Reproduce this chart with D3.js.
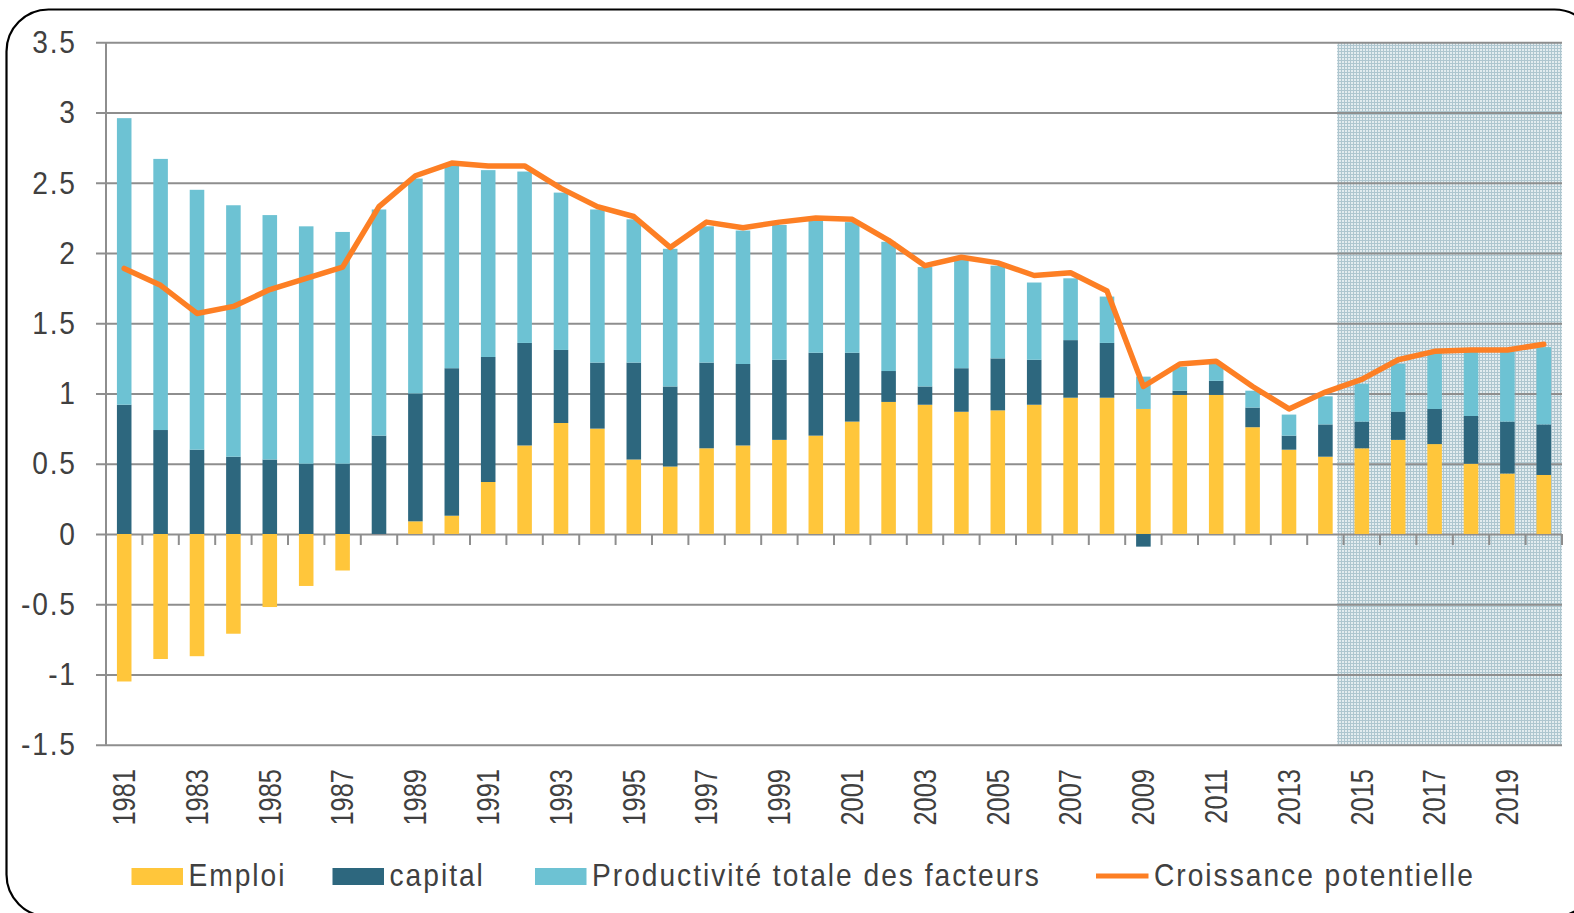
<!DOCTYPE html>
<html><head><meta charset="utf-8">
<script src="https://cdn.jsdelivr.net/npm/d3@7"></script>
<style>
html,body{margin:0;padding:0;background:#fff;}
svg{display:block;}
text{font-family:'Liberation Sans',Arial,sans-serif;fill:#404040;}
</style></head><body>
<svg id="chart" width="1574" height="913"></svg>
<script>
const years = d3.range(1981, 2021);
const emploi = [-1.05,-0.89,-0.87,-0.71,-0.52,-0.37,-0.26,0.0,0.09,0.13,0.37,0.63,0.79,0.75,0.53,0.48,0.61,0.63,0.67,0.70,0.80,0.94,0.92,0.87,0.88,0.92,0.97,0.97,0.89,0.99,0.99,0.76,0.60,0.55,0.61,0.67,0.64,0.50,0.43,0.42];
const capital = [0.92,0.74,0.60,0.55,0.53,0.50,0.50,0.70,0.91,1.05,0.89,0.73,0.52,0.47,0.69,0.57,0.61,0.58,0.57,0.59,0.49,0.22,0.13,0.31,0.37,0.32,0.41,0.39,-0.09,0.03,0.10,0.14,0.10,0.23,0.19,0.20,0.25,0.34,0.37,0.36];
const ptf = [2.04,1.93,1.85,1.79,1.74,1.69,1.65,1.61,1.53,1.44,1.33,1.22,1.12,1.09,1.02,0.98,0.97,0.95,0.96,0.94,0.93,0.92,0.85,0.77,0.66,0.55,0.44,0.33,0.23,0.17,0.12,0.12,0.15,0.20,0.27,0.34,0.40,0.46,0.50,0.55];
const croissance = [1.89,1.77,1.57,1.62,1.74,1.82,1.90,2.33,2.55,2.64,2.62,2.62,2.46,2.33,2.26,2.04,2.22,2.18,2.22,2.25,2.24,2.09,1.91,1.97,1.93,1.84,1.86,1.73,1.05,1.21,1.23,1.05,0.89,1.01,1.10,1.24,1.30,1.31,1.31,1.35];
const yTicks = [3.5,3,2.5,2,1.5,1,0.5,0,-0.5,-1,-1.5];
const xLabels = years.filter(y => y % 2 === 1);
const forecastStart = 2015;
const seriesNames = ["Emploi","capital","Productivité totale des facteurs"];
const lineName = "Croissance potentielle";
const colors = {"Emploi":"#FFC63B","capital":"#2D677E","Productivité totale des facteurs":"#6DC2D3"};
const lineColor = "#FD7F24";

const SX = 0.88;   // horizontal condensing of legend / y labels
const SXY = 0.82;  // condensing of year labels
const svg = d3.select("#chart");
const L = 106, R = 1562, T = 42.3, B = 744.7;

const x = d3.scaleBand().domain(years).range([L, R]).paddingInner(0.6).paddingOuter(0.3);
const y = d3.scaleLinear().domain([-1.5, 3.5]).range([B, T]);
const step = x.step();

// frame
svg.append("rect").attr("x",6.5).attr("y",9.5).attr("width",1590).attr("height",907)
  .attr("rx",42).attr("ry",42).attr("fill","#fff").attr("stroke","#000").attr("stroke-width",2.2);

// pattern for forecast zone
const defs = svg.append("defs");
const pat = defs.append("pattern").attr("id","grid").attr("width",3).attr("height",3).attr("patternUnits","userSpaceOnUse");
pat.append("rect").attr("width",3).attr("height",3).attr("fill","#E3ECEF");
pat.append("rect").attr("width",3).attr("height",1).attr("fill","#AEC6CF");
pat.append("rect").attr("width",1).attr("height",3).attr("fill","#AEC6CF");

const shadeX = x(forecastStart) - step*0.3 - 6.5;
svg.append("rect").attr("x", shadeX).attr("y", y(3.5)).attr("width", R - shadeX).attr("height", y(-1.5) - y(3.5))
  .attr("fill","url(#grid)");

// y axis with grid
const yLs = 1.8;
const yAxis = d3.axisLeft(y).tickValues(yTicks).tickFormat(d => String(d)).tickSizeInner(-(R - 96)).tickSizeOuter(0).tickPadding(0);
const gy = svg.append("g").attr("transform","translate(96,0)").call(yAxis);
gy.select(".domain").remove();
gy.selectAll(".tick line").attr("stroke","#8E8E8E").attr("stroke-width",2);
gy.selectAll(".tick text").attr("x", -(21 - yLs) / SX).attr("transform", `scale(${SX},1)`)
  .attr("font-size",32).style("letter-spacing",(yLs/SX)+"px").attr("fill","#404040")
  .style("font-family","'Liberation Sans',Arial,sans-serif");

svg.append("line").attr("x1",L).attr("x2",L).attr("y1",y(3.5)).attr("y2",y(-1.5)).attr("stroke","#8E8E8E").attr("stroke-width",2);

// category ticks below zero line
const bounds = years.map(d => x(d) - step*0.3).concat([R]);
svg.append("g").selectAll("line").data(bounds.slice(1)).join("line")
  .attr("x1", d => d).attr("x2", d => d).attr("y1", y(0)).attr("y2", y(0) + 11)
  .attr("stroke","#8E8E8E").attr("stroke-width",2);

// stacked bars
const table = years.map((yr,i) => ({year: yr, "Emploi": emploi[i], "capital": capital[i], "Productivité totale des facteurs": ptf[i]}));
const stack = d3.stack().keys(seriesNames).offset(d3.stackOffsetDiverging)(table);
svg.append("g").selectAll("g").data(stack).join("g").attr("fill", d => colors[d.key])
  .selectAll("rect").data(d => d).join("rect")
  .attr("x", d => x(d.data.year)).attr("width", x.bandwidth())
  .attr("y", d => y(Math.max(d[0], d[1]))).attr("height", d => Math.abs(y(d[0]) - y(d[1])));

// line
const line = d3.line().x((d,i) => x(years[i]) + x.bandwidth()/2).y(d => y(d));
svg.append("path").datum(croissance).attr("d", line).attr("fill","none")
  .attr("stroke", lineColor).attr("stroke-width",5.5).attr("stroke-linejoin","round").attr("stroke-linecap","round");

// x labels
svg.append("g").selectAll("text").data(xLabels).join("text")
  .attr("transform", d => `translate(${x(d) + x.bandwidth()/2},769) rotate(-90) scale(${SXY},1)`)
  .attr("text-anchor","end").attr("dy","0.35em").attr("font-size",31).text(d => d);

// legend
const lg = svg.append("g");
const legendX = [131.5, 332.5, 535];
const ls = (2.0/SX)+"px";
seriesNames.forEach((n,i) => {
  lg.append("rect").attr("x", legendX[i]).attr("y", 868).attr("width", 51.5).attr("height", 17).attr("fill", colors[n]);
  lg.append("text").attr("transform",`translate(${legendX[i] + 57},885.5) scale(${SX},1)`)
    .attr("font-size",32).style("letter-spacing",ls).text(n);
});
lg.append("line").attr("x1",1096).attr("x2",1148.5).attr("y1",876).attr("y2",876).attr("stroke",lineColor).attr("stroke-width",5);
lg.append("text").attr("transform",`translate(1154,885.5) scale(${SX},1)`)
  .attr("font-size",32).style("letter-spacing",ls).text(lineName);
</script>
</body></html>
